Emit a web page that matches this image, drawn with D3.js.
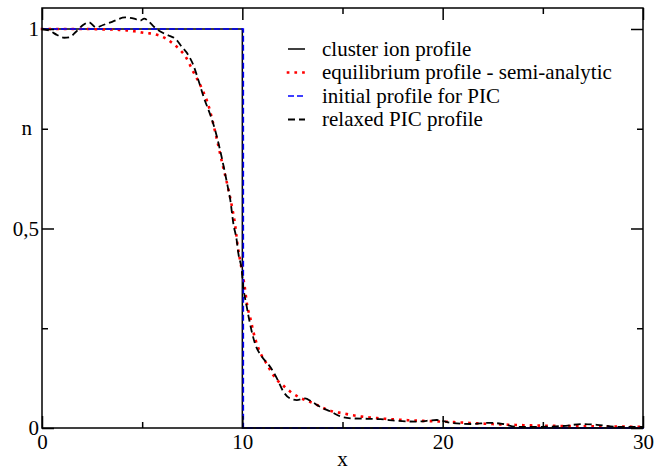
<!DOCTYPE html>
<html>
  <head>
    <meta charset="utf-8">
    <title>Ion profiles</title>
    <script src="https://d3js.org/d3.v7.min.js"></script>
    <style>
      body { margin: 0; background: #fff; }
      .axis path, .axis line { stroke: #000; stroke-width: 1.5; }
    </style>
  </head>
  <body>
    <div id="chart"></div>
    <script>
      // step profiles (cluster ion and initial PIC profile)
      var stepX = [0, 10, 10, 30];
      var stepY = [1, 1, 0, 0];

      // equilibrium profile - semi-analytic
      var equilX = [0, 1, 2, 3, 3.75, 4.5, 5, 5.7, 6.15, 6.5, 6.9, 7.15, 7.55, 7.95, 8.3, 8.7, 9, 9.25, 9.5, 9.65,
        9.75, 9.9, 10.1, 10.25, 10.4, 10.55, 10.8, 11.2, 11.7, 12.05, 12.4, 12.8, 13.5, 14.4, 15, 15.5, 16.9,
        18.5, 20, 22, 23.7, 26, 28, 30];
      var equilY = [1, 1, 1, 0.999, 0.998, 0.995, 0.991, 0.986, 0.977, 0.965, 0.947, 0.932, 0.893, 0.854, 0.81,
        0.73, 0.663, 0.61, 0.55, 0.505, 0.463, 0.417, 0.36, 0.305, 0.275, 0.241, 0.2, 0.162, 0.122, 0.106, 0.091,
        0.078, 0.063, 0.043, 0.037, 0.032, 0.024, 0.019, 0.016, 0.011, 0.0075, 0.005, 0.004, 0.003];

      // relaxed PIC profile
      var relaxX = [0, 0.4, 0.75, 1.1, 1.35, 1.7, 2.05, 2.35, 2.7, 3.05, 3.5, 4.15, 4.6, 4.9, 5.1, 5.3, 5.6, 6.05,
        6.4, 6.65, 6.97, 7.3, 7.55, 7.8, 8.1, 8.4, 8.65, 8.95, 9.25, 9.4, 9.55, 9.72, 9.8, 9.97, 10.05, 10.22, 10.38,
        10.63, 10.97, 11.38, 11.72, 12.05, 12.38, 12.72, 13.13, 13.46, 13.88, 14.38, 14.96, 15.5, 16.3, 16.9, 17.7,
        18.7, 19.7, 20.4, 21.4, 22.4, 23, 23.7, 24.7, 26, 27, 27.7, 28.7, 30];
      var relaxY = [1, 0.995, 0.985, 0.978, 0.979, 0.993, 1.01, 1.017, 1.004, 1.01, 1.018, 1.029, 1.026, 1.021,
        1.026, 1.02, 1.005, 0.99, 0.982, 0.976, 0.956, 0.935, 0.91, 0.873, 0.825, 0.785, 0.745, 0.683, 0.61, 0.571,
        0.513, 0.47, 0.438, 0.396, 0.354, 0.304, 0.262, 0.212, 0.179, 0.154, 0.125, 0.091, 0.074, 0.07, 0.074,
        0.066, 0.053, 0.042, 0.028, 0.024, 0.023, 0.022, 0.018, 0.016, 0.02, 0.013, 0.01, 0.013, 0.01, 0.003,
        0.003, 0.005, 0.01, 0.008, 0.003, 0.003];

      var xMajor = [0, 10, 20, 30];
      var xMinor = [5, 15, 25];
      var yMajor = [0, 0.5, 1];
      var yMajorLabels = ["0", "0,5", "1"];
      var yMinor = [0.25, 0.75];

      var legendLabels = ["cluster ion profile", "equilibrium profile - semi-analytic",
        "initial profile for PIC", "relaxed PIC profile"];

      var FONT = "'Liberation Serif'";

      var W = 665, H = 470;
      var margin = {top: 8, right: 22, bottom: 42, left: 42};
      var width = W - margin.left - margin.right;
      var height = H - margin.top - margin.bottom;

      var x = d3.scaleLinear().domain([0, 30]).range([0, width]);
      var y = d3.scaleLinear().domain([0, 1.0526]).range([height, 0]);

      var svg = d3.select("#chart").append("svg")
        .attr("width", W).attr("height", H)
        .attr("font-family", "Liberation Serif")
        .append("g")
        .attr("transform", "translate(" + margin.left + "," + margin.top + ")");

      function pts(xs, ys) {
        return xs.map(function(d, i) { return [d, ys[i]]; });
      }
      var line = d3.line().x(function(d) { return x(d[0]); }).y(function(d) { return y(d[1]); });
      var smooth = d3.line().curve(d3.curveMonotoneX)
        .x(function(d) { return x(d[0]); }).y(function(d) { return y(d[1]); });

      var styles = [
        {stroke: "#000", width: 1.5, dash: null, cap: "butt"},
        {stroke: "#ff0000", width: 2.6, dash: "0.1,7.6", cap: "square"},
        {stroke: "#0000ff", width: 1.6, dash: "6,3", cap: "butt"},
        {stroke: "#000", width: 1.8, dash: "7,4", cap: "butt"}
      ];

      function styleLine(sel, s) {
        sel.attr("fill", "none")
          .attr("stroke", s.stroke)
          .attr("stroke-width", s.width)
          .attr("stroke-linecap", s.cap)
          .attr("stroke-dasharray", s.dash);
      }

      // cluster ion profile
      svg.append("path").datum(pts(stepX, stepY)).attr("d", line).call(styleLine, styles[0]);
      // semi-analytic equilibrium
      svg.append("path").datum(pts(equilX, equilY)).attr("d", smooth).call(styleLine, styles[1]);
      // initial PIC profile, drawn slightly right of the solid one
      svg.append("path").datum(pts(stepX, stepY)).attr("d", line)
        .attr("transform", "translate(1,0)").call(styleLine, styles[2]);
      // relaxed PIC
      svg.append("path").datum(pts(relaxX, relaxY)).attr("d", smooth).call(styleLine, styles[3]);

      // axes, ticks pointing inward on all four sides
      function fmtX(d) { return d; }
      function fmtY(d) { return yMajorLabels[yMajor.indexOf(d)]; }

      svg.append("g").attr("class", "axis").attr("transform", "translate(0," + height + ")")
        .call(d3.axisBottom(x).tickValues(xMajor).tickSize(-12).tickPadding(6).tickFormat(fmtX));
      svg.append("g").attr("class", "axis").attr("transform", "translate(0," + height + ")")
        .call(d3.axisBottom(x).tickValues(xMinor).tickSize(-6).tickFormat(""));
      svg.append("g").attr("class", "axis")
        .call(d3.axisTop(x).tickValues(xMajor).tickSize(-12).tickFormat(""));
      svg.append("g").attr("class", "axis")
        .call(d3.axisTop(x).tickValues(xMinor).tickSize(-6).tickFormat(""));

      svg.append("g").attr("class", "axis")
        .call(d3.axisLeft(y).tickValues(yMajor).tickSize(-12).tickPadding(3).tickFormat(fmtY));
      svg.append("g").attr("class", "axis")
        .call(d3.axisLeft(y).tickValues(yMinor).tickSize(-6).tickFormat(""));
      svg.append("g").attr("class", "axis").attr("transform", "translate(" + width + ",0)")
        .call(d3.axisRight(y).tickValues(yMajor).tickSize(-12).tickFormat(""));
      svg.append("g").attr("class", "axis").attr("transform", "translate(" + width + ",0)")
        .call(d3.axisRight(y).tickValues(yMinor).tickSize(-6).tickFormat(""));

      // frame
      svg.append("rect").attr("width", width).attr("height", height)
        .attr("fill", "none").attr("stroke", "#000").attr("stroke-width", 1.5);

      svg.selectAll(".axis .domain").remove();

      // axis titles
      svg.append("text").attr("x", width / 2).attr("y", height + 38)
        .attr("text-anchor", "middle").text("x");
      svg.append("text").attr("x", -10).attr("y", y(0.75)).attr("dy", "0.3em")
        .attr("text-anchor", "end").text("n");

      // legend
      var legend = svg.append("g").attr("transform", "translate(246,41)");
      legendLabels.forEach(function(label, i) {
        var row = legend.append("g").attr("transform", "translate(0," + (i * 23.5) + ")");
        row.append("line").attr("x1", 0).attr("x2", 17).attr("y1", 0).attr("y2", 0)
          .call(styleLine, styles[i]);
        row.append("text").attr("x", 34).attr("dy", "0.32em").text(label);
      });

      // serif text everywhere, same as the original plot
      d3.selectAll("svg g").attr("font-family", null);
      d3.selectAll("svg text")
        .attr("font-family", "Liberation Serif")
        .style("font-family", FONT)
        .style("font-size", "21px")
        .style("fill", "#000");
    </script>
  </body>
</html>
